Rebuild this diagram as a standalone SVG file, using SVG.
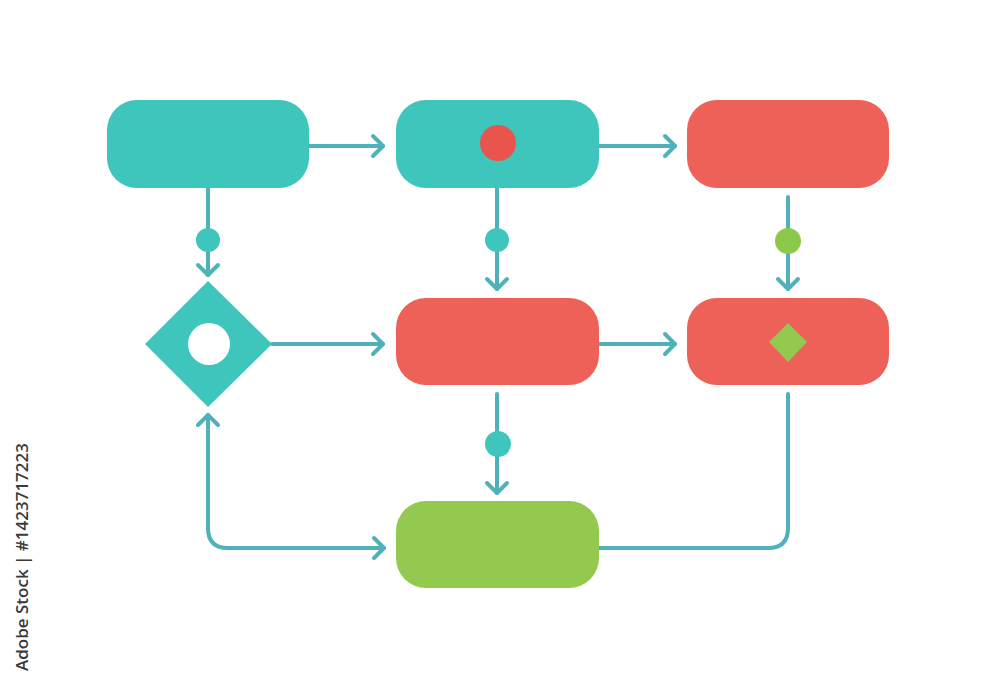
<svg xmlns="http://www.w3.org/2000/svg" width="1000" height="684" viewBox="0 0 1000 684">
<defs>
<style>
.teal{fill:#3ec5bc}
.red{fill:#ee6158}
.green{fill:#92c94e}
.conn{fill:none;stroke:#4fb2ba;stroke-width:4;stroke-linecap:round;stroke-linejoin:round}
.dot{fill:#3ec5bc}
.gdot{fill:#8cc84b}
.wm{font-family:"Open Sans","Liberation Sans",sans-serif;font-size:17px;font-weight:600;fill:#3a3a3a}
</style>
<marker id="arr" markerUnits="userSpaceOnUse" viewBox="-14 -14 20 28" markerWidth="20" markerHeight="28" refX="0" refY="0" orient="auto-start-reverse" overflow="visible">
<path d="M-10,-10 L0,0 L-10,10" fill="none" stroke="#4fb2ba" stroke-width="4" stroke-linecap="round" stroke-linejoin="round"/>
</marker>
</defs>
<rect width="1000" height="684" fill="#ffffff"/>
<g id="connectors">
<line class="conn" x1="309" y1="146" x2="383" y2="146" marker-end="url(#arr)"/>
<line class="conn" x1="599" y1="146" x2="675" y2="146" marker-end="url(#arr)"/>
<line class="conn" x1="208" y1="188" x2="208" y2="275" marker-end="url(#arr)"/>
<line class="conn" x1="497" y1="188" x2="497" y2="289" marker-end="url(#arr)"/>
<line class="conn" x1="788" y1="197" x2="788" y2="289" marker-end="url(#arr)"/>
<line class="conn" x1="272" y1="344" x2="383" y2="344" marker-end="url(#arr)"/>
<line class="conn" x1="599" y1="344" x2="675" y2="344" marker-end="url(#arr)"/>
<line class="conn" x1="497" y1="394" x2="497" y2="493" marker-end="url(#arr)"/>
<path class="conn" d="M208,415 L208,528 Q208,548 228,548 L384,548" marker-start="url(#arr)" marker-end="url(#arr)"/>
<path class="conn" d="M788,394 L788,528 Q788,548 768,548 L599,548"/>
<circle class="dot" cx="208" cy="240" r="12"/>
<circle class="dot" cx="497" cy="240" r="12"/>
<circle class="gdot" cx="788" cy="241" r="13"/>
<circle class="dot" cx="498" cy="444" r="13"/>
</g>
<g id="node-a"><rect class="teal" x="107" y="100" width="202" height="88" rx="30"/></g>
<g id="node-b"><rect class="teal" x="396" y="100" width="203" height="88" rx="30"/><circle cx="498" cy="143" r="18" fill="#e9544d"/></g>
<g id="node-c"><rect class="red" x="687" y="100" width="202" height="88" rx="30"/></g>
<g id="node-diamond"><polygon class="teal" points="208,281 272,344 208,407 145,344"/><circle cx="209" cy="344" r="21" fill="#ffffff"/></g>
<g id="node-d"><rect class="red" x="396" y="298" width="203" height="87" rx="30"/></g>
<g id="node-e"><rect class="red" x="687" y="298" width="202" height="87" rx="30"/><polygon class="green" points="788,323 807,342 788,362 769,342"/></g>
<g id="node-f"><rect class="green" x="396" y="501" width="203" height="87" rx="30"/></g>
<text class="wm" transform="translate(28,557) rotate(-90)" text-anchor="middle">Adobe Stock | #1423717223</text>
</svg>
